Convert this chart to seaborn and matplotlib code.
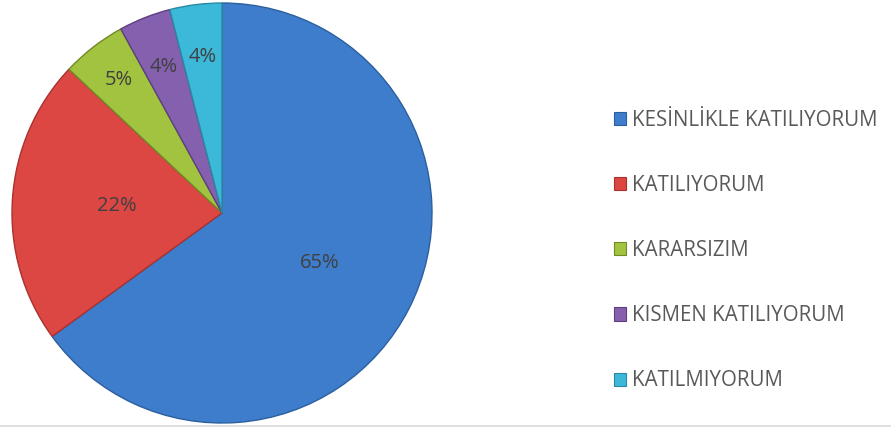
import numpy as np
import matplotlib
matplotlib.use('Agg')
import matplotlib.pyplot as plt
import seaborn as sns
from matplotlib.patches import Patch

# Veriler
kategoriler = ['KESİNLİKLE KATILIYORUM', 'KATILIYORUM', 'KARARSIZIM',
               'KISMEN KATILIYORUM', 'KATILMIYORUM']
yuzdeler = [65, 22, 5, 4, 4]
renkler = ['#3d7dcc', '#dc4743', '#a2c33f', '#8560ae', '#3cb8d8']
kenarlar = ['#2c5f9e', '#a9322f', '#6f8a28', '#5c3f80', '#2a89a3']
# etiket uzaklıkları (yarıçap oranı)
etiket_uzaklik = [0.52, 0.50, 0.80, 0.75, 0.75]

sns.set_theme(style='white')
plt.rcParams['font.family'] = ['Open Sans', 'DejaVu Sans']

fig = plt.figure(figsize=(8.91, 4.29), dpi=100)
ax = fig.add_axes([12 / 891, 6 / 429, 420 / 891, 420 / 429])

wedges, texts, autotexts = ax.pie(
    yuzdeler,
    colors=sns.color_palette(renkler),
    startangle=90,
    counterclock=False,
    autopct='%1.0f%%',
    pctdistance=0.5,
    radius=1,
    wedgeprops=dict(linewidth=1.0),
    textprops=dict(fontsize=14.5, color='#404040'),
)

# kenar renkleri ve etiket konumları
for w, t, k, d in zip(wedges, autotexts, kenarlar, etiket_uzaklik):
    w.set_edgecolor(k)
    aci = np.deg2rad((w.theta1 + w.theta2) / 2)
    t.set_position((d * np.cos(aci), d * np.sin(aci)))

ax.set_xlim(-1.0, 1.0)
ax.set_ylim(-1.0, 1.0)
ax.set_aspect('equal')
ax.axis('off')

handles = [Patch(facecolor=c, edgecolor=k, linewidth=0.8) for c, k in zip(renkler, kenarlar)]
leg = fig.legend(handles, kategoriler,
                 loc='center left', bbox_to_anchor=(614 / 891, 0.416),
                 frameon=False, fontsize=14.8, handlelength=0.6, handleheight=0.6,
                 handletextpad=0.3, labelspacing=2.15, labelcolor='#595959',
                 borderaxespad=0, borderpad=0)

# alttaki ince çizgi
fig.add_artist(plt.Line2D([0, 1], [3 / 429, 3 / 429], color='#d9d9d9', linewidth=1.2))

plt.savefig('out.png', dpi=100)
